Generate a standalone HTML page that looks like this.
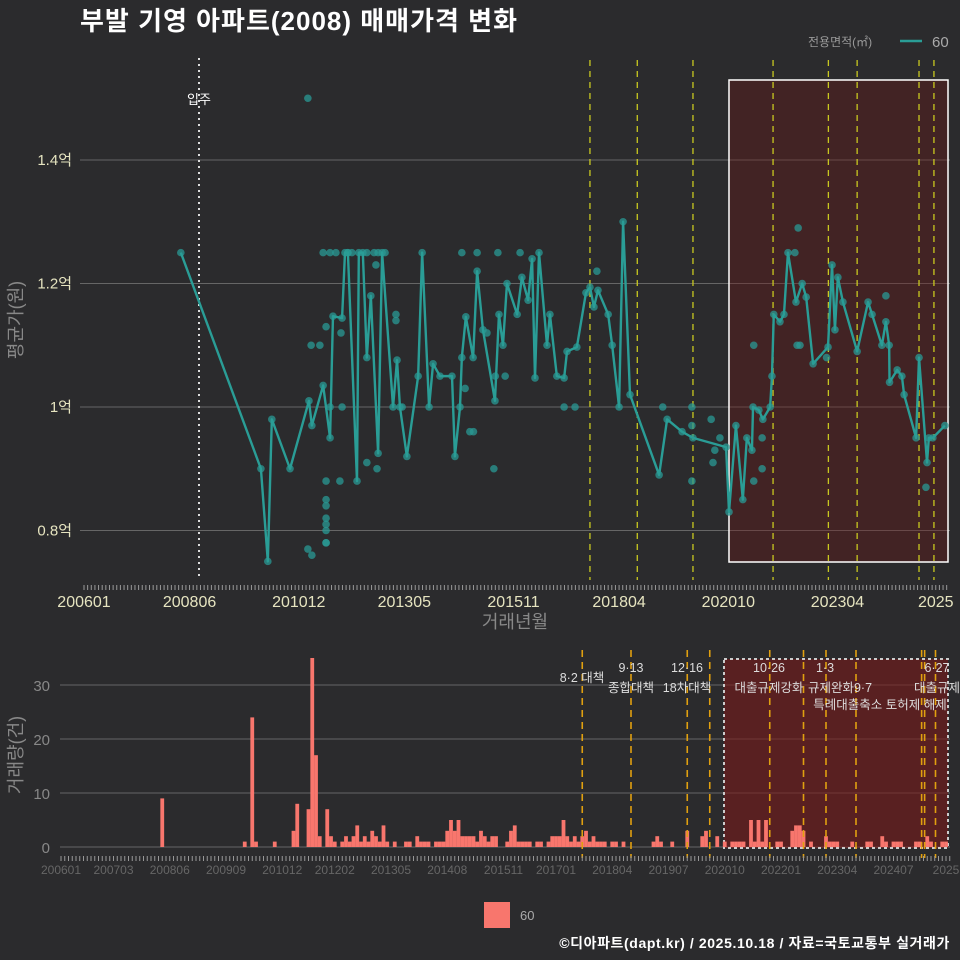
<!DOCTYPE html>
<html><head><meta charset="utf-8">
<style>
html,body{margin:0;padding:0;background:#2b2b2d;}
body{width:960px;height:960px;overflow:hidden;font-family:"Liberation Sans","Noto Sans CJK KR",sans-serif;}
svg{display:block;}
svg text{font-family:"Liberation Sans","Noto Sans CJK KR",sans-serif;}
</style></head>
<body>
<svg id="chart" width="960" height="960" xmlns="http://www.w3.org/2000/svg">
<rect x="0" y="0" width="960" height="960" fill="#2b2b2d"/>
<text x="80" y="30" fill="#ffffff" font-size="26" font-weight="bold" letter-spacing="1">부발 기영 아파트(2008) 매매가격 변화</text>
<g>
<text x="808" y="46" fill="#999" font-size="12">전용면적(㎡)</text>
<line x1="900" y1="41" x2="922" y2="41" stroke="#2a9d96" stroke-width="2.5"/>
<text x="932" y="47" fill="#aaa" font-size="15">60</text>
</g>
<g id="topchart"></g>
<g id="bottomchart"></g>
<g>
<rect x="484" y="902" width="26" height="26" fill="#f8766d"/>
<text x="520" y="920" fill="#aaa" font-size="13">60</text>
</g>
<text x="950" y="948" fill="#ffffff" font-size="14" font-weight="bold" letter-spacing="0.6" text-anchor="end">©디아파트(dapt.kr) / 2025.10.18 / 자료=국토교통부 실거래가</text>
</svg>
<script>
// ---- price line data (month index from 2006-01, price in 억) ----
const lineMonths = [26.6,48.6,50.5,51.6,56.6,61.8,62.6,65.7,67.6,68.4,70.9,71.7,72.5,75.0,75.5,76.6,77.7,78.8,80.8,81.9,84.9,86.0,86.8,88.7,91.8,92.9,94.8,95.9,97.8,101.1,101.9,103.3,103.8,104.9,106.9,108.0,109.6,112.9,114.0,115.1,116.2,119.0,120.3,122.0,123.1,123.9,125.0,127.2,128.0,129.9,131.9,132.7,135.4,137.9,139.0,140.1,141.2,144.0,145.1,147.0,148.1,150.0,158.0,160.2,164.3,167.3,176.4,177.2,179.1,181.0,182.1,183.5,183.8,185.4,186.5,188.5,189.0,189.5,191.2,192.3,193.4,195.6,197.3,198.4,200.3,204.4,205.5,206.3,207.1,208.5,212.4,215.4,216.5,219.2,220.3,221.2,221.3,223.4,224.7,225.3,228.6,229.4,231.6,232.1,233.2,236.5];
const lineValues = [1.25,0.90,0.75,0.98,0.90,1.01,0.97,1.035,0.95,1.147,1.144,1.25,1.25,0.88,1.25,1.25,1.08,1.18,0.925,1.25,1.0,1.076,1.0,0.92,1.05,1.25,1.0,1.07,1.05,1.05,0.92,1.0,1.08,1.146,1.08,1.22,1.125,1.01,1.15,1.10,1.20,1.15,1.21,1.173,1.24,1.047,1.25,1.10,1.15,1.05,1.047,1.09,1.097,1.185,1.194,1.162,1.189,1.15,1.10,1.0,1.30,1.02,0.89,0.98,0.96,0.95,0.935,0.83,0.97,0.85,0.95,0.93,1.0,0.995,0.98,1.0,1.05,1.15,1.138,1.15,1.25,1.17,1.20,1.178,1.07,1.097,1.23,1.125,1.21,1.17,1.09,1.17,1.15,1.10,1.138,1.10,1.04,1.06,1.05,1.02,0.95,1.08,0.91,0.95,0.95,0.97];
// ---- individual trade points ----
const pointMonths = [61.5,66.5,66.5,66.5,66.5,66.5,66.5,66.5,66.5,61.5,62.6,62.4,64.8,66.5,70.6,70.3,77.7,80.5,85.7,85.7,65.7,67.6,69.2,72.5,73.6,77.7,79.7,82.7,80.8,80.2,67.6,70.9,87.4,103.8,108,113.7,119.8,112.6,106,107,110.7,104.7,113,115.7,131.9,134.9,140.9,159,167,167,167,172.3,173.3,172.8,174.7,196.2,195.3,184,195.9,196.7,204,220.3,186.3,186.3,184,231.3];
const pointValues = [1.5,0.88,0.85,0.84,0.82,0.81,0.80,0.78,0.78,0.77,0.76,1.10,1.10,1.13,1.12,0.88,0.91,0.90,1.15,1.14,1.25,1.25,1.25,1.25,1.25,1.25,1.25,1.25,1.25,1.23,1.0,1.0,1.0,1.25,1.25,1.25,1.25,0.90,0.96,0.96,1.12,1.03,1.05,1.05,1.0,1.0,1.22,1.0,1.0,0.97,0.88,0.98,0.93,0.91,0.95,1.29,1.25,1.10,1.10,1.10,1.08,1.18,0.95,0.90,0.88,0.87];
const yTickValues = [0.8,1.0,1.2,1.4];
const yTickLabels = ["0.8억","1억","1.2억","1.4억"];
const xTickMonths = [0,29,59,88,118,147,177,207,234];
const xTickLabels = ["200601","200806","201012","201305","201511","201804","202010","202304","2025"];
const topPolicyMonths = [139,152,167.3,189.3,204.5,212.4,229.4,233.5];
// ---- volume data ----
const barMonths = [27,49,51,52,57,62,63,66,67,68,69,71,72,73,75,76,77,78,79,80,81,82,83,84,85,86,87,89,92,93,95,96,97,98,100,101,102,103,104,105,106,107,108,109,110,111,112,113,114,115,116,119,120,121,122,123,124,125,127,128,130,131,132,133,134,135,136,137,138,139,140,141,142,143,144,145,147,148,150,158,159,160,163,167,171,172,175,177,179,180,181,182,184,185,186,187,188,191,192,195,196,197,198,200,204,205,206,207,211,215,216,219,220,222,223,224,228,229,231,232,235,236];
const barCounts = [9,1,24,1,1,3,8,7,35,17,2,7,2,1,1,2,1,2,4,1,2,1,3,2,1,4,1,1,1,1,2,1,1,1,1,1,1,3,5,3,5,2,2,2,2,1,3,2,1,2,2,1,3,4,1,1,1,1,1,1,1,2,2,2,5,2,1,2,1,2,3,1,2,1,1,1,1,1,1,1,2,1,1,3,2,3,2,1,1,1,1,1,5,1,5,1,5,1,1,3,4,4,3,1,2,1,1,1,1,1,1,2,1,1,1,1,1,1,2,1,1,1];
const volTickValues = [0,10,20,30];
const volTickLabels = ["0","10","20","30"];
const volXTickMonths = [0,14,29,44,59,73,88,103,118,132,147,162,177,192,207,222,236];
const volXTickLabels = ["200601","200703","200806","200909","201012","201202","201305","201408","201511","201701","201804","201907","202010","202201","202304","202407","2025"];
const volPolicyMonths = [139,152,167,173,189,198,204,212,229.5,230.3,233.2];

const NS="http://www.w3.org/2000/svg";
function mk(parent,tag,attrs){const e=document.createElementNS(NS,tag);for(const k in attrs)e.setAttribute(k,attrs[k]);parent.appendChild(e);return e;}
const xT=m=>84+m*3.64;
const yT=v=>407-(v-1.0)*617.5;
const xB=m=>61+m*3.75;
const yB=c=>847-c*5.4;

// ---------- TOP CHART ----------
const topG=document.getElementById('topchart');
yTickValues.forEach((v,i)=>{
  const g=mk(topG,'line',{x1:80,x2:950,y1:yT(v),y2:yT(v),stroke:'#666','stroke-width':1});
  
  
  const t=mk(topG,'text',{x:72,y:yT(v)+5,fill:'#e6e4c0','font-size':15,'text-anchor':'end'});
  t.textContent=yTickLabels[i];
  
  
});
const hb=mk(topG,'rect',{x:729,y:80,width:219,height:482,fill:'rgba(110,20,20,0.35)',stroke:'#ffffff','stroke-width':1.5});


const mi=mk(topG,'line',{x1:199,x2:199,y1:58,y2:580,stroke:'#dddddd','stroke-width':2,'stroke-dasharray':'2 4'});


const mt=mk(topG,'text',{x:199,y:104,fill:'#ffffff','font-size':13,'text-anchor':'middle'});
mt.textContent='입주';


topPolicyMonths.forEach(m=>{
  const l=mk(topG,'line',{x1:xT(m),x2:xT(m),y1:60,y2:580,stroke:'#c8c820','stroke-width':1.3,'stroke-dasharray':'6 5'});
  
  
});
pointMonths.forEach((m,i)=>{
  const c=mk(topG,'circle',{cx:xT(m),cy:yT(pointValues[i]),r:3.8,fill:'#2a9a94','fill-opacity':0.75});
  
  
});
lineMonths.forEach((m,i)=>{
  const c=mk(topG,'circle',{cx:xT(m),cy:yT(lineValues[i]),r:3.8,fill:'#2a9a94','fill-opacity':0.75});
  
  
});
const pl=mk(topG,'polyline',{points:lineMonths.map((m,i)=>xT(m)+','+yT(lineValues[i])).join(' '),fill:'none',stroke:'#2a9d96','stroke-width':2.4,'stroke-linejoin':'round'});


for(let m=0;m<=237;m++){
  const tk=mk(topG,'line',{x1:xT(m),x2:xT(m),y1:585,y2:590,stroke:'#999','stroke-width':1});
  
  
}
xTickMonths.forEach((m,i)=>{
  const t=mk(topG,'text',{x:xT(m),y:607,fill:'#e6e4c0','font-size':16,'text-anchor':'middle'});
  t.textContent=xTickLabels[i];
  
  
});
const xt=mk(topG,'text',{x:515,y:628,fill:'#888','font-size':18,'text-anchor':'middle'});
xt.textContent='거래년월';


const yt=mk(topG,'text',{x:0,y:0,fill:'#888','font-size':18,'text-anchor':'middle',transform:'translate(22,320) rotate(-90)'});
yt.textContent='평균가(원)';



// ---------- BOTTOM CHART ----------
const botG=document.getElementById('bottomchart');
volTickValues.forEach((v,i)=>{
  const g=mk(botG,'line',{x1:60,x2:950,y1:yB(v),y2:yB(v),stroke:'#666','stroke-width':1});
  
  
  const t=mk(botG,'text',{x:50,y:yB(v)+6,fill:'#888','font-size':15,'text-anchor':'end'});
  t.textContent=volTickLabels[i];
  
  
});
const hb2=mk(botG,'rect',{x:724,y:659,width:224,height:189,fill:'rgba(120,25,25,0.6)',stroke:'#cccccc','stroke-width':2,'stroke-dasharray':'3 3'});


barMonths.forEach((m,i)=>{
  const h=barCounts[i]*5.4;
  const r=mk(botG,'rect',{x:xB(m)-1.9,y:yB(barCounts[i]),width:3.8,height:h,fill:'#f8766d'});
  
  
});
volPolicyMonths.forEach((m,i)=>{
  const l=mk(botG,'line',{x1:xB(m),x2:xB(m),y1:650,y2:858,stroke:'#e0a010','stroke-width':1.6,'stroke-dasharray':'7 5'});
  
  
});
const ann=[["8·2 대책",582,682],["9·13",631,672],["종합대책",631,692],["12·16",687,672],["18차대책",687,692],["10·26",769,672],["대출규제강화",769,692],["1·3",825,672],["규제완화9·7",840,692],["특례대출축소 토허제 해제",880,709],["6·27",937,672],["대출규제",937,692]];
ann.forEach(a=>{
  const t=mk(botG,'text',{x:a[1],y:a[2],fill:'#dddddd','font-size':12.5,'text-anchor':'middle'});
  t.textContent=a[0];
  
  
});
for(let m=0;m<=237;m++){
  const tk=mk(botG,'line',{x1:xB(m),x2:xB(m),y1:856,y2:861,stroke:'#999','stroke-width':1});
  
  
}
volXTickMonths.forEach((m,i)=>{
  const t=mk(botG,'text',{x:xB(m),y:874,fill:'#666','font-size':12,'text-anchor':'middle'});
  t.textContent=volXTickLabels[i];
  
  
});
const vt=mk(botG,'text',{x:0,y:0,fill:'#888','font-size':18,'text-anchor':'middle',transform:'translate(22,755) rotate(-90)'});
vt.textContent='거래량(건)';


</script>
</body></html>
